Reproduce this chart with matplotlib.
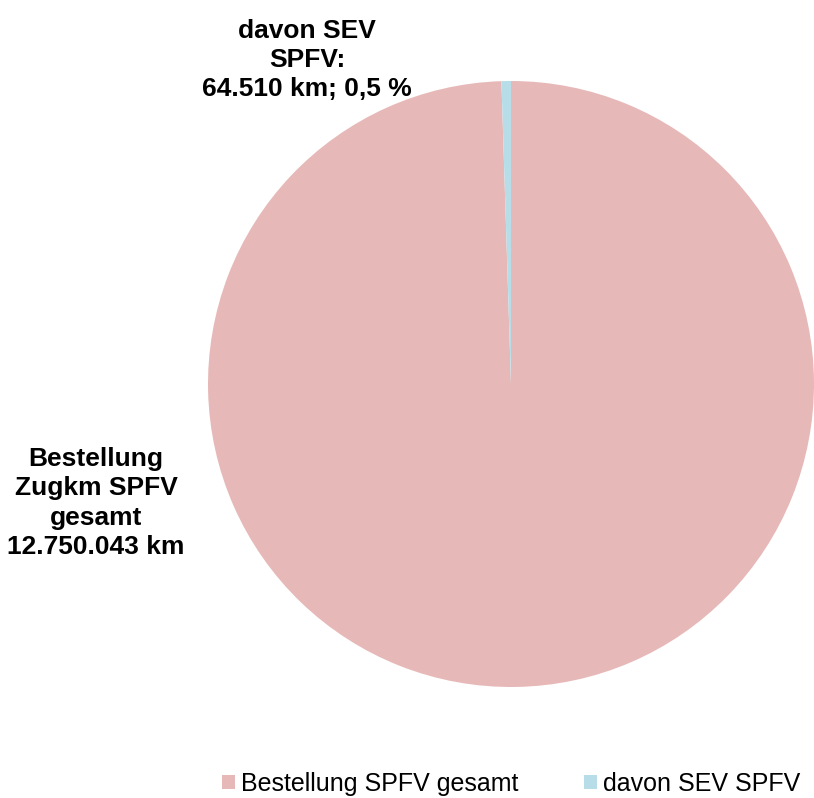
import matplotlib
matplotlib.use("Agg")
import matplotlib.pyplot as plt
from matplotlib.patches import Patch

plt.rcParams['font.family'] = ['Liberation Sans', 'DejaVu Sans']

categories = ["Bestellung SPFV gesamt", "davon SEV SPFV"]
values = [12750043, 64510]
colors = ["#E6B9B8", "#B7DEE8"]
label_total = "Bestellung\nZugkm SPFV\ngesamt\n12.750.043 km"
label_sev = "davon SEV\nSPFV:\n64.510 km; 0,5 %"

W, H = 814, 798
fig = plt.figure(figsize=(W / 100, H / 100), dpi=100)

cx, cy, r = 511, 384, 303
ax = fig.add_axes([(cx - r) / W, (H - cy - r) / H, 2 * r / W, 2 * r / H])
ax.pie(values, colors=colors, startangle=90, counterclock=False, radius=1,
       wedgeprops=dict(linewidth=0))
ax.set_xlim(-1, 1)
ax.set_ylim(-1, 1)
ax.set_aspect('equal')
ax.axis('off')

fig.text(307 / W, 1 - 60 / H, label_sev, ha='center', va='center',
         fontsize=19, fontweight='bold', linespacing=1.28)
fig.text(96 / W, 1 - 503 / H, label_total, ha='center', va='center',
         fontsize=19, fontweight='bold', linespacing=1.28)

handles = [Patch(facecolor=c, edgecolor='none') for c in colors]
fig.legend(handles, categories, loc='lower left', bbox_to_anchor=(222 / W, 2 / H),
           ncol=2, frameon=False, fontsize=18, handlelength=0.52, handleheight=0.52,
           handletextpad=0.26, columnspacing=2.6, borderpad=0, borderaxespad=0)

fig.savefig("out.png", dpi=100)
